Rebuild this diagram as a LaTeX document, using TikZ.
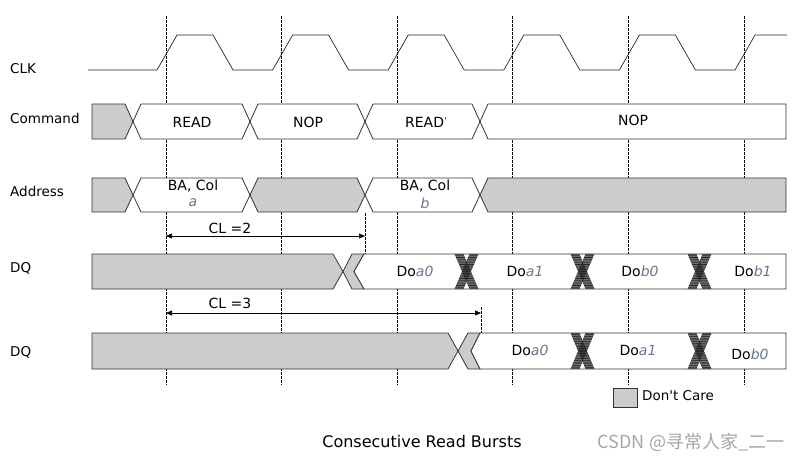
\documentclass[tikz,border=0pt]{standalone}
\usepackage{fontspec}
\setmainfont{DejaVu Sans}
\newfontfamily\cjkfont{Noto Sans CJK SC}
\usetikzlibrary{arrows.meta}
\definecolor{dontcare}{RGB}{204,204,204}
\definecolor{idx}{RGB}{105,118,140}
\newcommand{\busseg}[5]{\path[#5] (#1,{(#3+#4)/2}) -- (#1+8,#3) -- (#2-8,#3) -- (#2,{(#3+#4)/2}) -- (#2-8,#4) -- (#1+8,#4) -- cycle;}
\newcommand{\jitter}[3]{\foreach \d in {0,1,...,8} {\draw[hatch] (#1-12+\d,#2) -- (#1+3+\d,#3); \draw[hatch] (#1-12+\d,#3) -- (#1+3+\d,#2);}}
\begin{document}
\begin{tikzpicture}[x=1pt, y=-1pt,
    lbl/.style={anchor=west, inner sep=0pt, font=\fontsize{13.5}{16}\selectfont},
    txt/.style={inner sep=0pt, font=\fontsize{14}{16}\selectfont},
    bus/.style={draw=black!80, line width=0.8pt, fill=white},
    dc/.style={bus, fill=dontcare},
    edge/.style={dash pattern=on 2.5pt off 1.5pt, line width=1pt},
    hatch/.style={line width=0.7pt, black!85},
    cl/.style={{Triangle[length=6pt,width=5pt]}-{Triangle[length=6pt,width=5pt]}, line width=0.6pt}]
\useasboundingbox (0,0) rectangle (806,464);

\foreach \k in {0,...,5}
  \draw[edge] ({166+115.6*\k},16) -- ({166+115.6*\k},385);
\draw[line width=0.7pt, black!85] (88,70)
  \foreach \k in {0,...,4} {-- ({157+115.6*\k},70) -- ({177+115.6*\k},35) -- ({213+115.6*\k},35) -- ({233+115.6*\k},70)}
  -- (735,70) -- (755,35) -- (787,35);

\node[lbl] (clk) at (10,69) {CLK};
\node[lbl] (cmd) at (10,118) {Command};
\node[lbl] (addr) at (10,191) {Address};
\node[lbl] (dq1) at (10,268) {DQ};
\node[lbl] (dq2) at (10,352) {DQ};

% command
\path[dc] (92,104) -- (125,104) -- (133,121.5) -- (125,139) -- (92,139) -- cycle;
\busseg{133}{250}{104}{139}{bus}
\busseg{250}{365}{104}{139}{bus}
\busseg{365}{480}{104}{139}{bus}
\path[bus] (480,121.5) -- (488,104) -- (786,104) -- (786,139) -- (488,139) -- cycle;
\node[txt] (read1) at (192,122) {READ};
\node[txt] (nop1) at (308,122) {NOP};
\node[txt] (read2) at (426,122) {READ\raisebox{0.35ex}{\fontsize{9}{9}\selectfont’}};
\node[txt] (nop2) at (633,120) {NOP};

% address
\path[dc] (92,178) -- (125,178) -- (133,195) -- (125,212) -- (92,212) -- cycle;
\busseg{133}{250}{178}{212}{bus}
\busseg{250}{365}{178}{212}{dc}
\busseg{365}{480}{178}{212}{bus}
\path[dc] (480,195) -- (488,178) -- (786,178) -- (786,212) -- (488,212) -- cycle;
\node[txt] (cola) at (193,186) {BA, Col};
\node[txt, idx, font=\fontsize{14}{16}\selectfont\itshape] (adra) at (193,203) {a};
\node[txt] (colb) at (425,186) {BA, Col};
\node[txt, idx, font=\fontsize{14}{16}\selectfont\itshape] (adrb) at (425,203) {b};

% CL = 2
\coordinate (cl2a) at (166,236);
\coordinate (cl2b) at (365,236);
\draw[cl] (cl2a) -- (cl2b);
\draw[edge] (365,213) -- (365,254);
\node[txt, anchor=base] (cl2) at (230,233) {CL =2};

% DQ, CL = 2
\path[dc] (92,254) -- (333,254) -- (343,271.5) -- (333,289) -- (92,289) -- cycle;
\path[dc] (343,271.5) -- (352,254) -- (364,254) -- (354,271.5) -- (364,289) -- (352,289) -- cycle;
\path[bus] (354,271.5) -- (364,254) -- (786,254) -- (786,289) -- (364,289) -- cycle;
\jitter{467}{254}{289}
\jitter{583}{254}{289}
\jitter{700}{254}{289}
\node[txt] (da0) at (415,271) {Do\textcolor{idx}{\itshape a0}};
\node[txt] (da1) at (525,271) {Do\textcolor{idx}{\itshape a1}};
\node[txt] (db0) at (640,271) {Do\textcolor{idx}{\itshape b0}};
\node[txt] (db1) at (753,271) {Do\textcolor{idx}{\itshape b1}};

% CL = 3
\coordinate (cl3a) at (166,313);
\coordinate (cl3b) at (481,313);
\draw[cl] (cl3a) -- (cl3b);
\draw[edge] (481,307) -- (481,333);
\node[txt, anchor=base] (cl3) at (230,308) {CL =3};

% DQ, CL = 3
\path[dc] (92,333) -- (448,333) -- (458,351) -- (448,369) -- (92,369) -- cycle;
\path[dc] (458,351) -- (468,333) -- (480,333) -- (471,351) -- (480,369) -- (468,369) -- cycle;
\path[bus] (471,351) -- (480,333) -- (786,333) -- (786,369) -- (480,369) -- cycle;
\jitter{583}{333}{369}
\jitter{700}{333}{369}
\node[txt] (ea0) at (530,350) {Do\textcolor{idx}{\itshape a0}};
\node[txt] (ea1) at (638,350) {Do\textcolor{idx}{\itshape a1}};
\node[txt] (eb0) at (750,354) {Do\textcolor{idx}{\itshape b0}};

\draw[dc] (613,388) rectangle (637,407);
\node[lbl] (dclbl) at (642,396) {Don\textquotesingle t Care};
\node[font=\fontsize{16}{18}\selectfont] (cap) at (422,442) {Consecutive Read Bursts};
\node[font=\cjkfont\fontsize{18}{20}\selectfont, black!35] (wm) at (691,442) {CSDN @寻常人家\_二一};
\end{tikzpicture}
\end{document}
